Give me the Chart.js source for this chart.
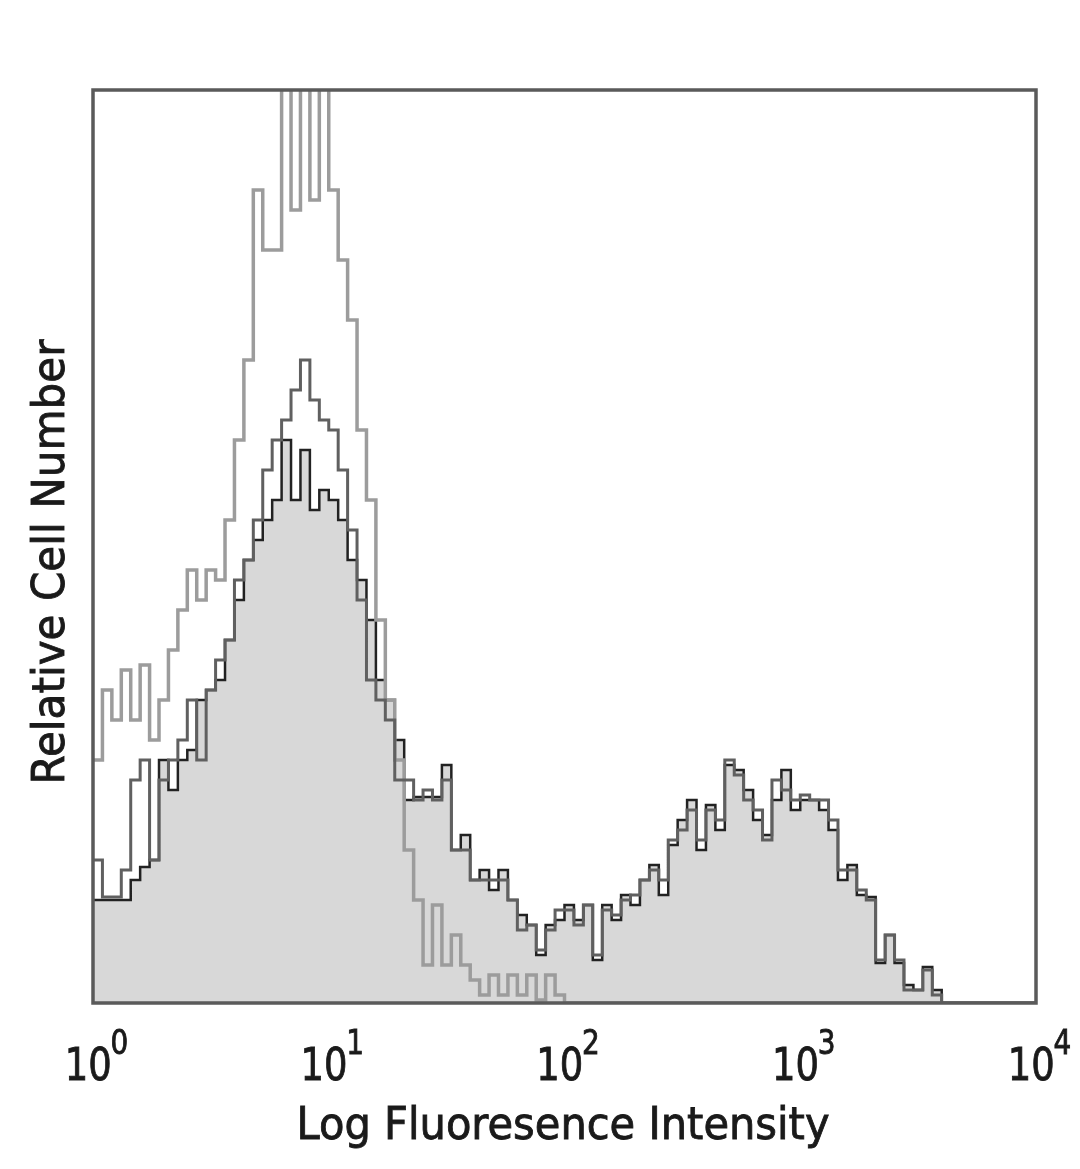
<!DOCTYPE html>
<html><head><meta charset="utf-8">
<script src="https://cdn.jsdelivr.net/npm/chart.js@4/dist/chart.umd.min.js"></script>
<style>html,body{margin:0;padding:0;background:#fff}canvas{display:block}</style>
</head><body>
<canvas id="c" width="1080" height="1169"></canvas>
<script>
// channel bins: 0.04 decade each, 100 bins from 10^0 to 10^4
const binStep = 0.04;
const tickExponents = ['0', '1', '2', '3', '4'];
const xTitle = 'Log Fluoresence Intensity';
const yTitle = 'Relative Cell Number';

// filled histogram (stained sample)
const stained = [
  103,103,103,103,123,136,143,243,213,243,
  253,303,313,323,363,403,443,463,483,503,
  563,503,553,493,513,503,483,443,423,383,
  323,303,263,203,206,206,206,238,153,168,
  123,133,113,133,103,88,78,48,78,83,
  98,83,98,43,98,83,108,98,123,138,
  108,158,183,203,153,198,173,238,233,213,
  183,168,203,233,193,203,203,193,173,123,
  138,108,106,40,68,40,18,13,36,13,
  0,0,0,0,0,0,0,0,0,0
];
// light grey open histogram (tallest)
const isotype = [
  243,313,283,333,283,338,263,303,353,393,
  433,403,433,423,483,563,643,813,753,753,
  960,793,960,803,960,813,743,683,573,503,
  383,303,243,153,103,38,98,38,68,38,
  23,8,28,8,28,8,28,3,28,8,
  0,0,0,0,0,0,0,0,0,0,
  0,0,0,0,0,0,0,0,0,0,
  0,0,0,0,0,0,0,0,0,0,
  0,0,0,0,0,0,0,0,0,0,
  0,0,0,0,0,0,0,0,0,0
];
// dark grey open histogram
const control = [
  143,106,106,133,223,243,143,223,243,263,
  303,243,313,343,363,423,443,483,533,563,
  583,613,643,603,583,573,533,473,403,323,
  303,283,223,223,203,213,203,223,153,153,
  123,123,123,123,103,73,78,53,73,93,
  93,78,98,48,93,88,103,108,123,133,
  123,163,173,193,163,193,183,243,228,203,
  193,163,223,213,203,208,203,203,183,133,
  133,113,103,43,68,43,13,13,33,8,
  0,0,0,0,0,0,0,0,0,0
];

function toPoints(vals) {
  const pts = vals.map((v, i) => ({ x: Math.pow(10, i * binStep), y: v }));
  pts.push({ x: Math.pow(10, vals.length * binStep), y: 0 });
  return pts;
}

const FONT = '"DejaVu Sans", sans-serif';
const TEXT_COLOR = '#1a1a1a';

function drawBold(ctx, text, x, y) {
  ctx.fillText(text, x, y);
  ctx.strokeText(text, x, y);
}

function fitText(ctx, text, cx, cy, targetW, size, rot) {
  ctx.save();
  ctx.font = size + 'px ' + FONT;
  const w = ctx.measureText(text).width;
  ctx.translate(cx, cy);
  if (rot) ctx.rotate(rot);
  ctx.scale(targetW / w, 1);
  ctx.textAlign = 'center';
  ctx.textBaseline = 'alphabetic';
  drawBold(ctx, text, 0, 0);
  ctx.restore();
}

const decor = {
  id: 'decor',
  afterDraw(chart) {
    const ctx = chart.ctx;
    const a = chart.chartArea;
    const xs = chart.scales.x;
    ctx.save();
    ctx.strokeStyle = '#5a5a5a';
    ctx.lineWidth = 3.5;
    ctx.strokeRect(a.left, a.top, a.right - a.left, a.bottom - a.top);
    ctx.fillStyle = TEXT_COLOR;
    ctx.strokeStyle = TEXT_COLOR;
    ctx.lineWidth = 0.9;
    const sx = 0.82;
    tickExponents.forEach(e => {
      const px = xs.getPixelForValue(Math.pow(10, Number(e)));
      ctx.font = '45px ' + FONT;
      const w10 = ctx.measureText('10').width * sx;
      ctx.font = '34px ' + FONT;
      const ws = ctx.measureText(e).width * sx;
      const left = px - (w10 + ws) / 2 + 4;
      ctx.save();
      ctx.translate(left, 1080);
      ctx.scale(sx, 1);
      ctx.font = '45px ' + FONT;
      ctx.textAlign = 'left';
      drawBold(ctx, '10', 0, 0);
      ctx.restore();
      ctx.save();
      ctx.translate(left + w10 - 1, 1054);
      ctx.scale(sx, 1);
      ctx.font = '34px ' + FONT;
      ctx.textAlign = 'left';
      drawBold(ctx, e, 0, 0);
      ctx.restore();
    });
    fitText(ctx, xTitle, 563, 1139, 533, 45, 0);
    fitText(ctx, yTitle, 64, 562, 445, 45, -Math.PI / 2);
    ctx.restore();
  }
};

new Chart(document.getElementById('c'), {
  type: 'line',
  data: {
    datasets: [
      { label: 'stained', data: toPoints(stained), stepped: true, fill: 'origin',
        backgroundColor: '#d8d8d8', borderColor: '#222222', borderWidth: 2.5, pointRadius: 0, order: 3 },
      { label: 'isotype', data: toPoints(isotype), stepped: true, fill: false,
        borderColor: '#9c9c9c', borderWidth: 3.5, pointRadius: 0, order: 2 },
      { label: 'control', data: toPoints(control), stepped: true, fill: false,
        borderColor: '#606060', borderWidth: 3, pointRadius: 0, order: 1 }
    ]
  },
  options: {
    responsive: false,
    animation: false,
    devicePixelRatio: 1,
    layout: { padding: { left: 93, right: 44, top: 90, bottom: 166 } },
    plugins: { legend: { display: false }, tooltip: { enabled: false }, title: { display: false } },
    scales: {
      x: { type: 'logarithmic', min: 1, max: 10000, display: false },
      y: { type: 'linear', min: 0, max: 913, display: false }
    }
  },
  plugins: [decor]
});
</script>
</body></html>
